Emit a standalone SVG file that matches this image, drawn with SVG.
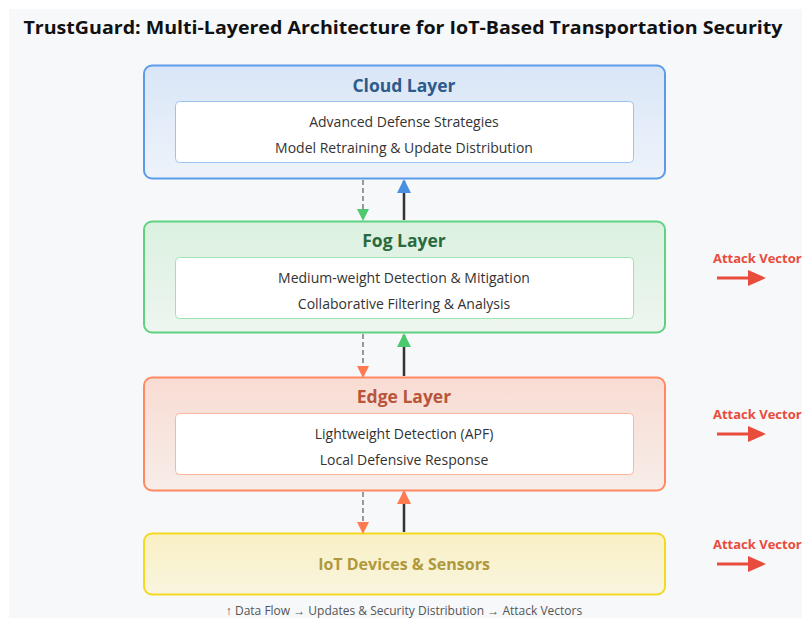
<svg xmlns="http://www.w3.org/2000/svg" width="802" height="618" viewBox="0 0 802 618">
<defs>
<style>
.t{font-family:"Open Sans","Liberation Sans",sans-serif}
.title{font-size:18px;font-weight:700;fill:#111}
.lt{font-size:17.5px;font-weight:700;text-anchor:middle}
.it{font-size:14px;fill:#333;text-anchor:middle}
.av{font-size:13px;font-weight:700;fill:#e74c3c}
.ft{font-size:12px;fill:#555;text-anchor:middle}
.dash{stroke:#999;stroke-width:2;stroke-dasharray:5,3;fill:none}
.sol{stroke:#333;stroke-width:2.5;fill:none}
.atk{stroke:#e74c3c;stroke-width:3;fill:none}
</style>
<linearGradient id="gC" x1="0" y1="0" x2="0" y2="1"><stop offset="0" stop-color="#d9e6f7"/><stop offset="1" stop-color="#eef3fa"/></linearGradient>
<linearGradient id="gF" x1="0" y1="0" x2="0" y2="1"><stop offset="0" stop-color="#dbf1e0"/><stop offset="1" stop-color="#eef5f0"/></linearGradient>
<linearGradient id="gE" x1="0" y1="0" x2="0" y2="1"><stop offset="0" stop-color="#f8dcd3"/><stop offset="1" stop-color="#f7ede9"/></linearGradient>
<linearGradient id="gI" x1="0" y1="0" x2="0" y2="1"><stop offset="0" stop-color="#f9f0c4"/><stop offset="1" stop-color="#f9f5df"/></linearGradient>
<marker id="mG" markerWidth="12" markerHeight="12" refX="10" refY="6" orient="auto" markerUnits="userSpaceOnUse" viewBox="0 0 12 12"><path d="M0,0 L12,6 L0,12 Z" fill="#4cc96f"/></marker>
<marker id="mO" markerWidth="12" markerHeight="12" refX="10" refY="6" orient="auto" markerUnits="userSpaceOnUse" viewBox="0 0 12 12"><path d="M0,0 L12,6 L0,12 Z" fill="#ff7a50"/></marker>
<marker id="uB" markerWidth="14" markerHeight="14" refX="12" refY="7" orient="auto" markerUnits="userSpaceOnUse" viewBox="0 0 14 14"><path d="M0,0 L14,7 L0,14 Z" fill="#4a8fe0"/></marker>
<marker id="uG" markerWidth="14" markerHeight="14" refX="12" refY="7" orient="auto" markerUnits="userSpaceOnUse" viewBox="0 0 14 14"><path d="M0,0 L14,7 L0,14 Z" fill="#4cc96f"/></marker>
<marker id="uO" markerWidth="14" markerHeight="14" refX="12" refY="7" orient="auto" markerUnits="userSpaceOnUse" viewBox="0 0 14 14"><path d="M0,0 L14,7 L0,14 Z" fill="#ff7a50"/></marker>
<marker id="aR" markerWidth="18" markerHeight="18" refX="4" refY="9" orient="auto" markerUnits="userSpaceOnUse" viewBox="0 0 18 18"><path d="M0,1 L18,9 L0,17 Z" fill="#e74c3c"/></marker>
</defs>
<rect x="0" y="0" width="802" height="618" fill="#ffffff"/>
<rect x="9" y="9" width="793" height="609" fill="#f7f8fa"/>
<text class="t title" x="403" y="34" text-anchor="middle" textLength="759" lengthAdjust="spacingAndGlyphs">TrustGuard: Multi-Layered Architecture for IoT-Based Transportation Security</text>

<g id="cloud">
<rect x="144" y="65.5" width="521" height="113" rx="8" fill="url(#gC)" stroke="#5b9bea" stroke-width="2"/>
<text class="t lt" x="404" y="92" fill="#2e5b8c">Cloud Layer</text>
<rect x="175.5" y="101.5" width="458" height="61" rx="4" fill="#fff" stroke="#9cc2f0" stroke-width="1"/>
<text class="t it" x="404" y="127">Advanced Defense Strategies</text>
<text class="t it" x="404" y="153">Model Retraining &amp; Update Distribution</text>
</g>

<g id="fog">
<rect x="144" y="221.5" width="521" height="111" rx="8" fill="url(#gF)" stroke="#5fd282" stroke-width="2"/>
<text class="t lt" x="404" y="247" fill="#2b6a3c">Fog Layer</text>
<rect x="175.5" y="257.5" width="458" height="61" rx="4" fill="#fff" stroke="#9be3b0" stroke-width="1"/>
<text class="t it" x="404" y="283">Medium-weight Detection &amp; Mitigation</text>
<text class="t it" x="404" y="309">Collaborative Filtering &amp; Analysis</text>
</g>

<g id="edge">
<rect x="144" y="377.5" width="521" height="113" rx="8" fill="url(#gE)" stroke="#ff8a62" stroke-width="2"/>
<text class="t lt" x="404" y="403" fill="#b9553a">Edge Layer</text>
<rect x="175.5" y="413.5" width="458" height="61" rx="4" fill="#fff" stroke="#ffb59c" stroke-width="1"/>
<text class="t it" x="404" y="439">Lightweight Detection (APF)</text>
<text class="t it" x="404" y="465">Local Defensive Response</text>
</g>

<g id="iot">
<rect x="144" y="533.5" width="521" height="61" rx="8" fill="url(#gI)" stroke="#f5d820" stroke-width="2"/>
<text class="t lt" x="404" y="570" fill="#b0983e" style="font-size:16px">IoT Devices &amp; Sensors</text>
</g>

<g id="attacks">
<text class="t av" x="713" y="263">Attack Vector</text>
<line class="atk" x1="717" y1="278" x2="752" y2="278" marker-end="url(#aR)"/>
<text class="t av" x="713" y="419">Attack Vector</text>
<line class="atk" x1="717" y1="434" x2="752" y2="434" marker-end="url(#aR)"/>
<text class="t av" x="713" y="549">Attack Vector</text>
<line class="atk" x1="717" y1="564" x2="752" y2="564" marker-end="url(#aR)"/>
</g>

<g id="connectors">
<line class="dash" x1="363" y1="180" x2="363" y2="219" marker-end="url(#mG)"/>
<line class="sol" x1="404" y1="220" x2="404" y2="181" marker-end="url(#uB)"/>
<line class="dash" x1="363" y1="334" x2="363" y2="376" marker-end="url(#mO)"/>
<line class="sol" x1="404" y1="376" x2="404" y2="335" marker-end="url(#uG)"/>
<line class="dash" x1="363" y1="492" x2="363" y2="532" marker-end="url(#mO)"/>
<line class="sol" x1="404" y1="532" x2="404" y2="492" marker-end="url(#uO)"/>
</g>

<text class="t ft" x="404" y="615">↑ Data Flow → Updates &amp; Security Distribution → Attack Vectors</text>
</svg>
